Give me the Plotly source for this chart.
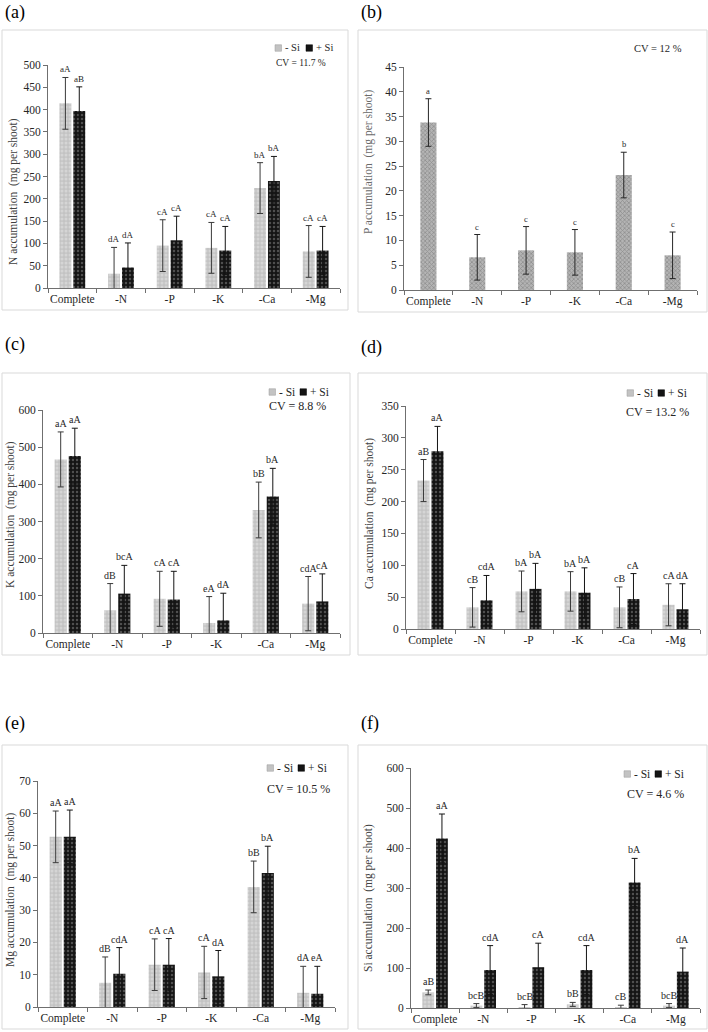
import plotly.graph_objects as go

# ---------------- data ----------------
categories = ["Complete", "-N", "-P", "-K", "-Ca", "-Mg"]

# (a) N accumulation
n_minus_si = [414, 32, 95, 90, 224, 82]
n_minus_err = [58, 59, 58, 57, 57, 58]
n_plus_si = [397, 46, 107, 84, 240, 84]
n_plus_err = [54, 55, 54, 54, 55, 54]
n_minus_letters = ["aA", "dA", "cA", "cA", "bA", "cA"]
n_plus_letters = ["aB", "dA", "cA", "cA", "bA", "cA"]

# (b) P accumulation (single series)
p_values = [33.8, 6.6, 8.0, 7.6, 23.2, 7.0]
p_err = [4.8, 4.6, 4.8, 4.6, 4.6, 4.7]
p_letters = ["a", "c", "c", "c", "b", "c"]

# (c) K accumulation
k_minus_si = [467, 61, 92, 27, 331, 79]
k_minus_err = [74, 72, 74, 71, 75, 73]
k_plus_si = [476, 106, 90, 34, 367, 85]
k_plus_err = [75, 76, 76, 73, 76, 74]
k_minus_letters = ["aA", "dB", "cA", "eA", "bB", "cdA"]
k_plus_letters = ["aA", "bcA", "cA", "dA", "bA", "cA"]

# (d) Ca accumulation
ca_minus_si = [233, 34, 59, 59, 34, 38]
ca_minus_err = [33, 31, 32, 31, 32, 33]
ca_plus_si = [279, 45, 63, 57, 47, 31]
ca_plus_err = [39, 39, 40, 39, 40, 40]
ca_minus_letters = ["aB", "cB", "bA", "bA", "cB", "cA"]
ca_plus_letters = ["aA", "cdA", "bA", "bA", "cA", "dA"]

# (e) Mg accumulation
mg_minus_si = [52.7, 7.5, 13.1, 10.7, 37.2, 4.4]
mg_minus_err = [8.0, 8.0, 8.0, 8.1, 8.0, 8.2]
mg_plus_si = [52.7, 10.3, 13.1, 9.5, 41.5, 4.1]
mg_plus_err = [8.3, 8.1, 8.1, 8.0, 8.3, 8.5]
mg_minus_letters = ["aA", "dB", "cA", "cA", "bB", "dA"]
mg_plus_letters = ["aA", "cdA", "cA", "dA", "bA", "eA"]

# (f) Si accumulation
si_minus_si = [39, 6, 2.5, 9, 2.5, 6]
si_minus_err = [6, 5, 6, 5, 4.5, 5]
si_plus_si = [424, 95, 102, 95, 314, 91]
si_plus_err = [61, 61, 60, 61, 60, 59]
si_minus_letters = ["aB", "bcB", "bcB", "bB", "cB", "bcB"]
si_plus_letters = ["aA", "cdA", "cA", "cdA", "bA", "dA"]

series_names = ["- Si", "+ Si"]

# ---------------- styling / geometry ----------------
W, H = 708, 1032
FONT = "'Liberation Serif', 'Times New Roman', 'DejaVu Serif', serif"
TXT = "#262626"
AXIS = "#6f6f6f"

BAR_W = 0.245
OFF_MINUS = -0.265
OFF_PLUS = 0.02

MINUS_COLOR = "#c3c3c3"
PLUS_COLOR = "#141414"


def fx(p):
    return p / W


def fy(p):
    return 1 - p / H


panels = [
    dict(label="(a)", title="N accumulation  (mg per shoot)",
         minus=n_minus_si, minus_err=n_minus_err, plus=n_plus_si, plus_err=n_plus_err,
         minus_letters=n_minus_letters, plus_letters=n_plus_letters,
         ymax=500, dtick=50, cv="CV = 11.7 %", cv_size=9.5, letter_size=9,
         plot=(48, 340, 65, 288), box=(2, 348, 30, 310), lab=(3, 12),
         ytitle=(13, 192), ytitle_color="#404040",
         legend=(275, 48), legend_size=10.5, cvpos=(301, 63)),
    dict(label="(b)", title="P accumulation  (mg per shoot)",
         single=p_values, single_err=p_err, single_letters=p_letters,
         ymax=45, dtick=5, cv="CV = 12 %", cv_size=10.5, letter_size=8.5,
         plot=(404, 697, 67, 290), box=(358, 707, 30, 312), lab=(359, 12),
         ytitle=(368, 162), ytitle_color="#6a6a6a",
         legend=None, cvpos=(658, 49)),
    dict(label="(c)", title="K accumulation  (mg per shoot)",
         minus=k_minus_si, minus_err=k_minus_err, plus=k_plus_si, plus_err=k_plus_err,
         minus_letters=k_minus_letters, plus_letters=k_plus_letters,
         ymax=600, dtick=100, cv="CV = 8.8 %", cv_size=12, letter_size=10,
         plot=(43, 340, 410, 633), box=(2, 350, 373, 655), lab=(3, 345),
         ytitle=(10, 515), ytitle_color="#404040",
         legend=(269, 392), legend_size=11.5, cvpos=(297, 406)),
    dict(label="(d)", title="Ca accumulation  (mg per shoot)",
         minus=ca_minus_si, minus_err=ca_minus_err, plus=ca_plus_si, plus_err=ca_plus_err,
         minus_letters=ca_minus_letters, plus_letters=ca_plus_letters,
         ymax=350, dtick=50, cv="CV = 13.2 %", cv_size=12, letter_size=10,
         plot=(406, 700, 406, 629), box=(358, 707, 373, 655), lab=(359, 348),
         ytitle=(369, 514), ytitle_color="#404040",
         legend=(627, 393), legend_size=11.5, cvpos=(657, 412)),
    dict(label="(e)", title="Mg accumulation  (mg per shoot)",
         minus=mg_minus_si, minus_err=mg_minus_err, plus=mg_plus_si, plus_err=mg_plus_err,
         minus_letters=mg_minus_letters, plus_letters=mg_plus_letters,
         ymax=70, dtick=10, cv="CV = 10.5 %", cv_size=12, letter_size=10,
         plot=(38, 335, 781, 1007), box=(2, 348, 745, 1029), lab=(3, 723),
         ytitle=(10, 890), ytitle_color="#404040",
         legend=(267, 768), legend_size=11.5, cvpos=(298, 789)),
    dict(label="(f)", title="Si accumulation  (mg per shoot)",
         minus=si_minus_si, minus_err=si_minus_err, plus=si_plus_si, plus_err=si_plus_err,
         minus_letters=si_minus_letters, plus_letters=si_plus_letters,
         ymax=600, dtick=100, cv="CV = 4.6 %", cv_size=12, letter_size=10,
         plot=(411, 700, 768, 1008), box=(358, 707, 745, 1029), lab=(359, 723),
         ytitle=(368, 898), ytitle_color="#404040",
         legend=(624, 774), legend_size=11.5, cvpos=(655, 794)),
]

minus_pattern = dict(shape=".", bgcolor=MINUS_COLOR, fgcolor="#e8e8e8", size=4, solidity=0.45)
plus_pattern = dict(shape=".", bgcolor=PLUS_COLOR, fgcolor="#8a8a8a", size=4, solidity=0.3)
single_pattern = dict(shape="x", bgcolor="#b4b4b4", fgcolor="#6a6a6a", size=3, solidity=0.45)

fig = go.Figure()
layout = dict(width=W, height=H, margin=dict(l=0, r=0, t=0, b=0),
              paper_bgcolor="white", plot_bgcolor="white",
              font=dict(family=FONT, color=TXT, size=11), barmode="overlay",
              showlegend=False)
annotations = []
shapes = []

for i, p in enumerate(panels):
    n = i + 1
    xa = "x" if n == 1 else f"x{n}"
    ya = "y" if n == 1 else f"y{n}"
    x0, x1, y0, y1 = p["plot"]
    layout["xaxis" if n == 1 else f"xaxis{n}"] = dict(
        domain=[fx(x0), fx(x1)], anchor=ya, type="category",
        categoryorder="array", categoryarray=categories, range=[-0.5, 5.5],
        showline=True, linecolor=AXIS, linewidth=1, ticks="outside",
        tickson="boundaries", ticklen=4, tickcolor=AXIS, showgrid=False,
        tickangle=0, automargin=False,
        tickfont=dict(size=11.5, color=TXT, family=FONT), fixedrange=True)
    layout["yaxis" if n == 1 else f"yaxis{n}"] = dict(
        domain=[fy(y1), fy(y0)], anchor=xa, range=[0, p["ymax"]], dtick=p["dtick"],
        showline=True, linecolor=AXIS, linewidth=1, ticks="outside", ticklen=4,
        tickcolor=AXIS, showgrid=False, zeroline=False, automargin=False,
        tickfont=dict(size=11.5, color=TXT, family=FONT), fixedrange=True)

    if "single" in p:
        fig.add_trace(go.Bar(
            x=categories, y=p["single"], xaxis=xa, yaxis=ya, width=0.33,
            marker=dict(color="#b4b4b4", pattern=single_pattern, line=dict(width=0)),
            error_y=dict(type="data", array=p["single_err"], visible=True,
                         color="#262626", thickness=1, width=3),
            showlegend=False, name="P"))
        for j, c in enumerate(categories):
            annotations.append(dict(
                x=j, y=p["single"][j] + p["single_err"][j], xref=xa, yref=ya,
                text=p["single_letters"][j], showarrow=False, yanchor="bottom",
                yshift=1, font=dict(size=p["letter_size"], family=FONT, color=TXT)))
    else:
        for name, vals, errs, letters, off, pat, ecol in [
            (series_names[0], p["minus"], p["minus_err"], p["minus_letters"], OFF_MINUS,
             minus_pattern, "#3a3a3a"),
            (series_names[1], p["plus"], p["plus_err"], p["plus_letters"], OFF_PLUS,
             plus_pattern, "#141414")]:
            fig.add_trace(go.Bar(
                x=categories, y=vals, xaxis=xa, yaxis=ya, name=name,
                width=BAR_W, offset=off,
                marker=dict(color=pat["bgcolor"], pattern=pat, line=dict(width=0)),
                error_y=dict(type="data", array=errs, visible=True,
                             color=ecol, thickness=1, width=3)))
            for j, c in enumerate(categories):
                annotations.append(dict(
                    x=j + off + BAR_W / 2, y=vals[j] + errs[j], xref=xa, yref=ya,
                    text=letters[j], showarrow=False, yanchor="bottom", yshift=1,
                    font=dict(size=p["letter_size"], family=FONT, color=TXT)))
        # compact key (square + text) like the original chart
        lx, ly = p["legend"]
        s = 6.5
        fs = p["legend_size"]
        items = [(series_names[0], MINUS_COLOR, lx), (series_names[1], PLUS_COLOR, lx + 31)]
        for name, col, sx in items:
            shapes.append(dict(type="rect", xref="paper", yref="paper",
                               x0=fx(sx), x1=fx(sx + s), y0=fy(ly + s / 2), y1=fy(ly - s / 2),
                               line=dict(color="#9a9a9a" if col == MINUS_COLOR else "#000",
                                         width=0.5),
                               fillcolor=col))
            annotations.append(dict(x=fx(sx + s + 1.5), y=fy(ly), xref="paper", yref="paper",
                                    text=name, showarrow=False, xanchor="left",
                                    yanchor="middle",
                                    font=dict(size=fs, family=FONT, color=TXT)))

    # chart-area border
    bx0, bx1, by0, by1 = p["box"]
    shapes.append(dict(type="rect", xref="paper", yref="paper",
                       x0=fx(bx0), x1=fx(bx1), y0=fy(by1), y1=fy(by0),
                       line=dict(color="#d9d9d9", width=1), fillcolor="rgba(0,0,0,0)",
                       layer="below"))
    # panel letter
    annotations.append(dict(x=fx(p["lab"][0]), y=fy(p["lab"][1]), xref="paper", yref="paper",
                            text=p["label"], showarrow=False, xanchor="left", yanchor="middle",
                            font=dict(size=18, family=FONT, color="#000")))
    # y title
    annotations.append(dict(x=fx(p["ytitle"][0]), y=fy(p["ytitle"][1]), xref="paper",
                            yref="paper", text=p["title"], textangle=-90, showarrow=False,
                            xanchor="center", yanchor="middle",
                            font=dict(size=11.5, family=FONT, color=p["ytitle_color"])))
    # CV text
    annotations.append(dict(x=fx(p["cvpos"][0]), y=fy(p["cvpos"][1]), xref="paper",
                            yref="paper", text=p["cv"], showarrow=False,
                            xanchor="center", yanchor="middle",
                            font=dict(size=p["cv_size"], family=FONT, color=TXT)))

layout["annotations"] = annotations
layout["shapes"] = shapes
fig.update_layout(**layout)
fig.write_html("out.html",
               config={"displayModeBar": False, "staticPlot": True},
               post_script="document.body.style.margin='0';document.body.style.overflow='hidden';")
